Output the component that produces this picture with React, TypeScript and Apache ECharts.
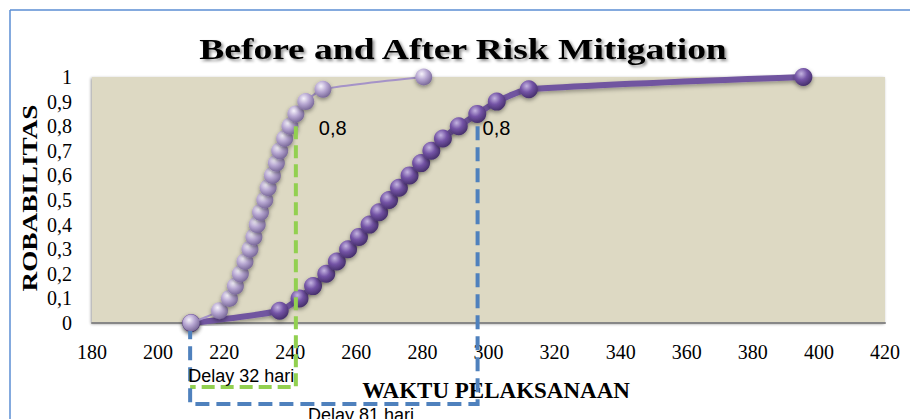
import React, { useEffect, useRef } from "react";
import * as echarts from "echarts";

// Cumulative probability levels (y values)
const probabilities = [
  0, 0.05, 0.1, 0.15, 0.2, 0.25, 0.3, 0.35, 0.4, 0.45, 0.5,
  0.55, 0.6, 0.65, 0.7, 0.75, 0.8, 0.85, 0.9, 0.95, 1,
];

// Duration (days) before risk mitigation – dark series
const durationBefore = [
  210, 236.8, 242.8, 246.9, 250.9, 254.1, 257.5, 260.8, 264, 266.9, 269.9,
  272.9, 276.1, 279.6, 282.7, 286.2, 291, 296.6, 302.5, 312.2, 395.3,
];

// Duration (days) after risk mitigation – light series
const durationAfter = [
  210, 218.6, 221.6, 223.4, 224.9, 226.3, 227.8, 229, 230, 231, 232.3,
  233.3, 234.6, 235.8, 236.8, 238.3, 239.9, 241.7, 244.7, 249.9, 280.4,
];

// Annotation values
const startDay = 209.7;
const afterP80Day = 241.7;
const beforeP80Day = 296.7;
const p80 = 0.8;
const p80Label = "0,8";
const delayAfterLabel = "Delay 32 hari";
const delayBeforeLabel = "Delay 81 hari";

const titleText = "Before and After Risk Mitigation";
const xAxisTitle = "WAKTU PELAKSANAAN";
const yAxisTitle = "ROBABILITAS";

const xMin = 180;
const xMax = 420;
const xInterval = 20;
const yMin = 0;
const yMax = 1;
const yInterval = 0.1;

const bead = (hi: string, mid: string, edge: string) => ({
  type: "radial",
  x: 0.38,
  y: 0.32,
  r: 0.75,
  colorStops: [
    { offset: 0, color: hi },
    { offset: 0.45, color: mid },
    { offset: 1, color: edge },
  ],
});

export default function App() {
  const ref = useRef<HTMLDivElement>(null);

  useEffect(() => {
    if (!ref.current) return;
    const chart = echarts.init(ref.current, null, { renderer: "svg" });

    const serif = '"Liberation Serif", "Times New Roman", serif';
    const sans = '"Liberation Sans", Arial, sans-serif';

    chart.setOption({
      animation: false,
      grid: {
        left: 92,
        right: 25,
        top: 77,
        bottom: 96,
        show: true,
        backgroundColor: "#DDD9C3",
        borderWidth: 0,
        shadowColor: "rgba(0,0,0,0.4)",
        shadowBlur: 3,
        shadowOffsetX: -1,
        shadowOffsetY: 1,
      },
      xAxis: {
        type: "value",
        min: xMin,
        max: xMax,
        interval: xInterval,
        axisLine: { show: true, lineStyle: { color: "#878787", width: 2 } },
        axisTick: { show: false },
        splitLine: { show: false },
        axisLabel: {
          color: "#000",
          fontFamily: serif,
          fontSize: 20,
          margin: 19,
        },
      },
      yAxis: {
        type: "value",
        min: yMin,
        max: yMax,
        interval: yInterval,
        axisLine: { show: false },
        axisTick: { show: false },
        splitLine: { show: false },
        axisLabel: {
          color: "#000",
          fontFamily: serif,
          fontSize: 20,
          margin: 20,
          formatter: (v: number) =>
            String(Math.round(v * 10) / 10).replace(".", ","),
        },
      },
      series: [
        {
          name: "Before",
          type: "line",
          data: durationBefore.map((x, i) => [x, probabilities[i]]),
          symbol: "circle",
          symbolSize: 18,
          smooth: 0.2,
          z: 2,
          lineStyle: {
            color: "#7155a0",
            width: 6,
            shadowColor: "rgba(0,0,0,0.35)",
            shadowBlur: 4,
            shadowOffsetY: 2,
          },
          itemStyle: {
            color: bead("#c4b4e0", "#7454a6", "#3f2a63"),
            borderWidth: 0,
            shadowColor: "rgba(0,0,0,0.4)",
            shadowBlur: 4,
            shadowOffsetY: 2,
          },
        },
        {
          name: "After",
          type: "line",
          data: durationAfter.map((x, i) => [x, probabilities[i]]),
          symbol: "circle",
          symbolSize: 17,
          smooth: 0.2,
          z: 3,
          lineStyle: { color: "#a593c8", width: 2 },
          itemStyle: {
            color: bead("#f6f3fb", "#b7a7d2", "#6f5e8f"),
            borderWidth: 0,
            shadowColor: "rgba(0,0,0,0.4)",
            shadowBlur: 4,
            shadowOffsetY: 2,
          },
        },
      ],
    });

    const px = (x: number, y: number) =>
      chart.convertToPixel({ gridIndex: 0 }, [x, y]) as number[];
    const [ax, ay] = px(afterP80Day, p80);
    const [bx, by] = px(beforeP80Day, p80);
    const [sx, axisY] = px(startDay, 0);

    const green = "#92D050";
    const blue = "#4F81BD";

    chart.setOption({
      graphic: [
        {
          type: "line",
          z: 100,
          shape: { x1: 10, y1: 10, x2: 910, y2: 10 },
          style: { stroke: "#5B8ED3", lineWidth: 1.5 },
        },
        {
          type: "line",
          z: 100,
          shape: { x1: 10, y1: 10, x2: 10, y2: 419 },
          style: { stroke: "#5B8ED3", lineWidth: 1.5 },
        },
        {
          type: "text",
          z: 100,
          x: 463,
          y: 49,
          scaleX: 1.25,
          style: {
            text: titleText,
            font: `bold 30px ${serif}`,
            fill: "#000",
            align: "center",
            verticalAlign: "middle",
            textAlign: "center",
            textVerticalAlign: "middle",
            textShadowColor: "rgba(0,0,0,0.45)",
            textShadowBlur: 3,
            textShadowOffsetX: 2,
            textShadowOffsetY: 2,
          },
        },
        {
          type: "text",
          z: 100,
          x: 30,
          y: 198,
          rotation: Math.PI / 2,
          scaleX: 1.36,
          style: {
            text: yAxisTitle,
            font: `bold 20px ${serif}`,
            fill: "#000",
            align: "center",
            verticalAlign: "middle",
            textAlign: "center",
            textVerticalAlign: "middle",
          },
        },
        {
          type: "text",
          z: 100,
          x: 496,
          y: 390,
          style: {
            text: xAxisTitle,
            font: `bold 23px ${serif}`,
            fill: "#000",
            align: "center",
            verticalAlign: "middle",
            textAlign: "center",
            textVerticalAlign: "middle",
          },
        },
        {
          type: "polyline",
          z: 100,
          shape: {
            points: [
              [ax, ay],
              [ax, axisY + 64],
              [sx, axisY + 64],
            ],
          },
          style: { stroke: green, lineWidth: 4, lineDash: [13, 6], fill: null },
        },
        {
          type: "polyline",
          z: 100,
          shape: {
            points: [
              [bx, by],
              [bx, axisY + 81],
              [sx, axisY + 81],
              [sx, axisY + 8],
            ],
          },
          style: { stroke: blue, lineWidth: 4, lineDash: [14, 7], fill: null },
        },
        {
          type: "text",
          z: 101,
          x: ax + 23,
          y: ay + 2,
          style: {
            text: p80Label,
            font: `20px ${sans}`,
            fill: "#000",
            align: "left",
            verticalAlign: "middle",
            textAlign: "left",
            textVerticalAlign: "middle",
          },
        },
        {
          type: "text",
          z: 101,
          x: bx + 5,
          y: by + 2,
          style: {
            text: p80Label,
            font: `20px ${sans}`,
            fill: "#000",
            align: "left",
            verticalAlign: "middle",
            textAlign: "left",
            textVerticalAlign: "middle",
          },
        },
        {
          type: "text",
          z: 101,
          x: sx - 2,
          y: axisY + 53,
          style: {
            text: delayAfterLabel,
            font: `18px ${sans}`,
            fill: "#000",
            align: "left",
            verticalAlign: "middle",
            textAlign: "left",
            textVerticalAlign: "middle",
          },
        },
        {
          type: "text",
          z: 101,
          x: 308,
          y: axisY + 83,
          style: {
            text: delayBeforeLabel,
            font: `18px ${sans}`,
            fill: "#000",
            align: "left",
            verticalAlign: "top",
            textAlign: "left",
            textVerticalAlign: "top",
          },
        },
      ],
    });

    return () => chart.dispose();
  }, []);

  return (
    <div
      ref={ref}
      style={{
        position: "absolute",
        left: 0,
        top: 0,
        width: 910,
        height: 419,
        background: "#fff",
      }}
    />
  );
}
